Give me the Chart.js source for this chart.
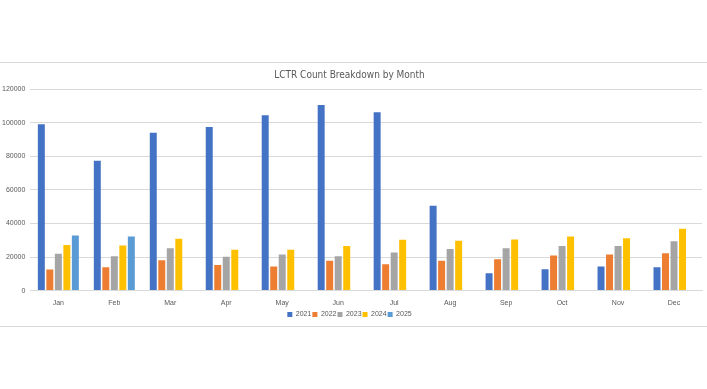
<!DOCTYPE html>
<html>
<head>
<meta charset="utf-8">
<script src="https://cdn.jsdelivr.net/npm/chart.js@4.4.1/dist/chart.umd.min.js"></script>
<style>
  html, body { margin: 0; padding: 0; background: #ffffff; }
  #wrap { position: relative; width: 707px; height: 389px; }
  .rule { position: absolute; left: 0; width: 707px; height: 1px; background: #d9d9d9; }
  canvas { position: absolute; left: 0; top: 0; }
</style>
</head>
<body>
<div id="wrap">
  <div class="rule" style="top:62px"></div>
  <div class="rule" style="top:326px"></div>
  <canvas id="c" width="707" height="389"></canvas>
</div>
<script>
const months = ["Jan","Feb","Mar","Apr","May","Jun","Jul","Aug","Sep","Oct","Nov","Dec"];
const seriesNames = ["2021","2022","2023","2024","2025"];
const v2021 = [99000, 77300, 94000, 97400, 104400, 110500, 106200, 50500, 10300, 12700, 14300, 13900];
const v2022 = [12500, 13900, 18100, 15300, 14300, 17700, 15700, 17700, 18700, 20900, 21500, 22300];
const v2023 = [21900, 20500, 25200, 20100, 21500, 20500, 22700, 24700, 25200, 26600, 26600, 29400];
const v2024 = [27200, 26800, 30800, 24300, 24300, 26600, 30200, 29600, 30400, 32200, 31200, 36800];
const v2025 = [32800, 32200, null, null, null, null, null, null, null, null, null, null];
const yTicks = [0, 20000, 40000, 60000, 80000, 100000, 120000];
const colors = ["#4472C4", "#ED7D31", "#A5A5A5", "#FFC000", "#5B9BD5"];

const allValues = [v2021, v2022, v2023, v2024, v2025];
const datasets = seriesNames.map((n, i) => ({
  label: n,
  data: allValues[i],
  backgroundColor: colors[i],
  borderWidth: 0,
  categoryPercentage: 0.76,
  barPercentage: 0.82
}));

const FONT = "'Liberation Sans', Arial, sans-serif";
new Chart(document.getElementById('c'), {
  type: 'bar',
  data: { labels: months, datasets },
  options: {
    responsive: false,
    animation: false,
    layout: { padding: { top: 68, bottom: 61, left: -3, right: 5 } },
    plugins: {
      title: {
        display: true,
        text: "LCTR Count Breakdown by Month",
        color: "#595959",
        font: { family: "'DejaVu Sans Condensed', 'Liberation Sans Narrow', 'Liberation Sans', sans-serif", size: 10, weight: 'normal' },
        padding: { top: 1, bottom: 8 }
      },
      legend: {
        position: 'bottom',
        labels: {
          boxWidth: 5, boxHeight: 5,
          padding: 1,
          color: "#595959",
          font: { family: FONT, size: 7 }
        }
      },
      tooltip: { enabled: false }
    },
    scales: {
      x: {
        grid: { display: false, drawTicks: false },
        border: { display: true, color: "#d9d9d9" },
        ticks: { color: "#595959", font: { family: FONT, size: 7 }, padding: 8 },
        afterFit: (scale) => { scale.height -= 5; }
      },
      y: {
        min: 0, max: 120000,
        afterBuildTicks: (axis) => { axis.ticks = yTicks.map(v => ({ value: v })); },
        grid: { color: "#d9d9d9", drawTicks: false },
        border: { display: false },
        ticks: { color: "#595959", font: { family: FONT, size: 7 }, padding: 5,
                 callback: (v) => String(v) }
      }
    }
  }
});
</script>
</body>
</html>
